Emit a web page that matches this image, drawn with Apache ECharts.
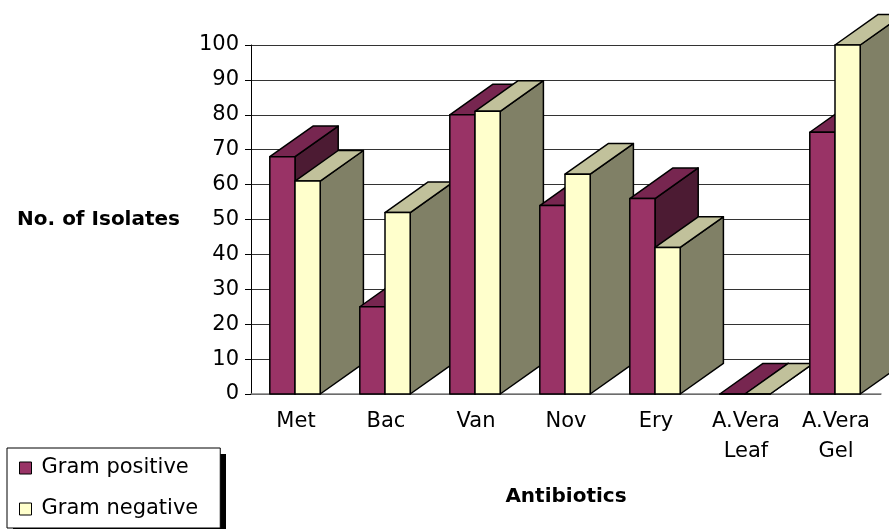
<!DOCTYPE html>
<html>
<head>
<meta charset="utf-8">
<script src="https://cdn.jsdelivr.net/npm/echarts@6/dist/echarts.min.js"></script>
<style>
  html, body { margin: 0; padding: 0; background: #fff; }
  #main { width: 889px; height: 529px; }
</style>
</head>
<body>
<div id="main"></div>
<script>
var categories = ['Met', 'Bac', 'Van', 'Nov', 'Ery', 'A.Vera\nLeaf', 'A.Vera\nGel'];
var gramPositive = [68, 25, 80, 54, 56, 0, 75];
var gramNegative = [61, 52, 81, 63, 42, 0, 100];

var chart = echarts.init(document.getElementById('main'));

// colours for front / top / side of each bar
var faces = [
  { front: '#993366', top: '#772650', side: '#4c1b33' },
  { front: '#ffffcc', top: '#c1c19b', side: '#808066' }
];

function makeRender(sIdx) {
  return function (params, api) {
    var cat = api.value(0);
    var top = api.coord([cat, api.value(1)]);
    var base = api.coord([cat, 0]);
    var band = api.size([1, 0])[0];
    var w = band * 0.28;
    var dx = band * 0.48, dy = -band * 0.34;
    var cx = base[0] - 1;
    var x0 = sIdx === 0 ? cx - w : cx;
    var x1 = x0 + w;
    var y = top[1], yb = base[1];
    var col = faces[sIdx];
    var line = { stroke: '#000', lineWidth: 1.5, lineJoin: 'round' };
    var z = cat * 10 + sIdx * 4;
    return {
      type: 'group',
      children: [{
        type: 'polygon', z2: z,
        shape: { points: [[x1, y], [x1, yb], [x1 + dx, yb + dy], [x1 + dx, y + dy]] },
        style: Object.assign({ fill: col.side }, line)
      }, {
        type: 'polygon', z2: z + 1,
        shape: { points: [[x0, y], [x1, y], [x1 + dx, y + dy], [x0 + dx, y + dy]] },
        style: Object.assign({ fill: col.top }, line)
      }, {
        type: 'rect', z2: z + 2,
        shape: { x: x0, y: y, width: w, height: yb - y },
        style: Object.assign({ fill: col.front }, line)
      }]
    };
  };
}

var posData = gramPositive.map(function (v, i) { return [i, v]; });
var negData = gramNegative.map(function (v, i) { return [i, v]; });

var option = {
  animation: false,
  textStyle: { fontFamily: 'DejaVu Sans' },
  grid: { left: 251, right: 8, top: 45, bottom: 135, containLabel: false },
  graphic: [{
    // drop shadow behind the legend box
    type: 'rect',
    z: 0,
    shape: { x: 13, y: 454, width: 213, height: 80 },
    style: { fill: '#000' }
  }],
  legend: {
    orient: 'vertical',
    left: 7,
    top: 448,
    z: 5,
    icon: 'rect',
    itemWidth: 12,
    itemHeight: 12,
    itemGap: 19,
    padding: [9, 22, 8, 12],
    backgroundColor: '#fff',
    borderColor: '#000',
    borderWidth: 1,
    textStyle: { fontSize: 21, lineHeight: 22, color: '#000', fontFamily: 'DejaVu Sans', padding: [0, 0, 0, 5] },
    data: [
      { name: 'Gram positive', itemStyle: { color: '#993366', borderColor: '#000', borderWidth: 1 } },
      { name: 'Gram negative', itemStyle: { color: '#ffffcc', borderColor: '#000', borderWidth: 1 } }
    ]
  },
  xAxis: {
    type: 'category',
    data: categories,
    name: 'Antibiotics',
    nameLocation: 'middle',
    nameGap: 93,
    nameTextStyle: { fontSize: 20, fontWeight: 'bold', color: '#000', fontFamily: 'DejaVu Sans' },
    axisLine: { lineStyle: { color: '#808080', width: 1.5 } },
    axisTick: { show: false },
    axisLabel: { color: '#000', fontSize: 21, margin: 13, lineHeight: 30, interval: 0 }
  },
  yAxis: {
    type: 'value',
    min: 0,
    max: 100,
    interval: 10,
    name: 'No. of Isolates',
    nameLocation: 'middle',
    nameRotate: 0,
    nameGap: 71,
    nameTextStyle: { fontSize: 20, fontWeight: 'bold', color: '#000', fontFamily: 'DejaVu Sans' },
    axisLine: { show: true, lineStyle: { color: '#000', width: 1 } },
    axisTick: { show: true, length: 6, lineStyle: { color: '#000' } },
    axisLabel: { color: '#000', fontSize: 21, margin: 12 },
    splitLine: { lineStyle: { color: '#333', width: 1 } }
  },
  series: [{
    name: 'Gram positive',
    type: 'custom',
    itemStyle: { color: '#993366' },
    renderItem: makeRender(0),
    encode: { x: 0, y: 1 },
    data: posData
  }, {
    name: 'Gram negative',
    type: 'custom',
    itemStyle: { color: '#ffffcc' },
    renderItem: makeRender(1),
    encode: { x: 0, y: 1 },
    data: negData
  }]
};

chart.setOption(option);
</script>
</body>
</html>
